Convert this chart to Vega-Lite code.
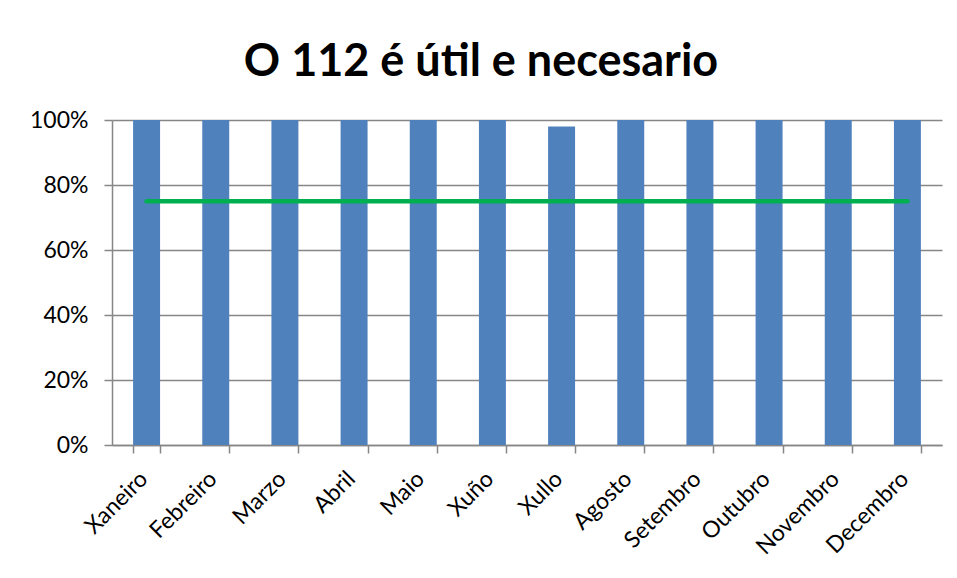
{
  "$schema": "https://vega.github.io/schema/vega-lite/v6.json",
  "width": 830,
  "height": 325,
  "autosize": {"type": "none"},
  "padding": {"left": 112, "top": 120, "right": 15, "bottom": 133},
  "background": "white",
  "title": {
    "text": "O 112 é útil e necesario",
    "font": "Lato",
    "fontSize": 45,
    "fontWeight": "bold",
    "color": "#000000",
    "anchor": "middle",
    "dx": -46,
    "dy": 54,
    "offset": 42,
    "baseline": "alphabetic"
  },
  "config": {
    "view": {"stroke": null},
    "axis": {
      "labelFont": "Lato",
      "labelFontSize": 23,
      "labelColor": "#000000",
      "domainColor": "#868686",
      "tickColor": "#868686",
      "gridColor": "#868686",
      "domainWidth": 1.5,
      "tickWidth": 1.5,
      "gridWidth": 1.5,
      "tickSize": 8,
      "title": null
    }
  },
  "data": {
    "values": [
      {"mes": "Xaneiro", "valor": 1.0, "obxectivo": 0.75},
      {"mes": "Febreiro", "valor": 1.0, "obxectivo": 0.75},
      {"mes": "Marzo", "valor": 1.0, "obxectivo": 0.75},
      {"mes": "Abril", "valor": 1.0, "obxectivo": 0.75},
      {"mes": "Maio", "valor": 1.0, "obxectivo": 0.75},
      {"mes": "Xuño", "valor": 1.0, "obxectivo": 0.75},
      {"mes": "Xullo", "valor": 0.98, "obxectivo": 0.75},
      {"mes": "Agosto", "valor": 1.0, "obxectivo": 0.75},
      {"mes": "Setembro", "valor": 1.0, "obxectivo": 0.75},
      {"mes": "Outubro", "valor": 1.0, "obxectivo": 0.75},
      {"mes": "Novembro", "valor": 1.0, "obxectivo": 0.75},
      {"mes": "Decembro", "valor": 1.0, "obxectivo": 0.75}
    ]
  },
  "encoding": {
    "x": {
      "field": "mes",
      "type": "nominal",
      "sort": null,
      "scale": {"paddingInner": 0.61, "paddingOuter": 0.305},
      "axis": {
        "labelAngle": -45,
        "labelAlign": "right",
        "labelBaseline": "middle",
        "labelPadding": 22,
        "tickBand": "extent",
        "grid": false,
        "labelOffset": -3
      }
    }
  },
  "layer": [
    {
      "mark": {"type": "bar", "color": "#4F81BD"},
      "encoding": {
        "y": {
          "field": "valor",
          "type": "quantitative",
          "scale": {"domain": [0, 1]},
          "axis": {
            "format": ".0%",
            "values": [0, 0.2, 0.4, 0.6, 0.8, 1.0],
            "grid": true,
            "labelPadding": 16
          }
        }
      }
    },
    {
      "mark": {"type": "line", "color": "#00B050", "strokeWidth": 4.5, "strokeCap": "round"},
      "encoding": {
        "y": {"field": "obxectivo", "type": "quantitative"}
      }
    }
  ]
}
